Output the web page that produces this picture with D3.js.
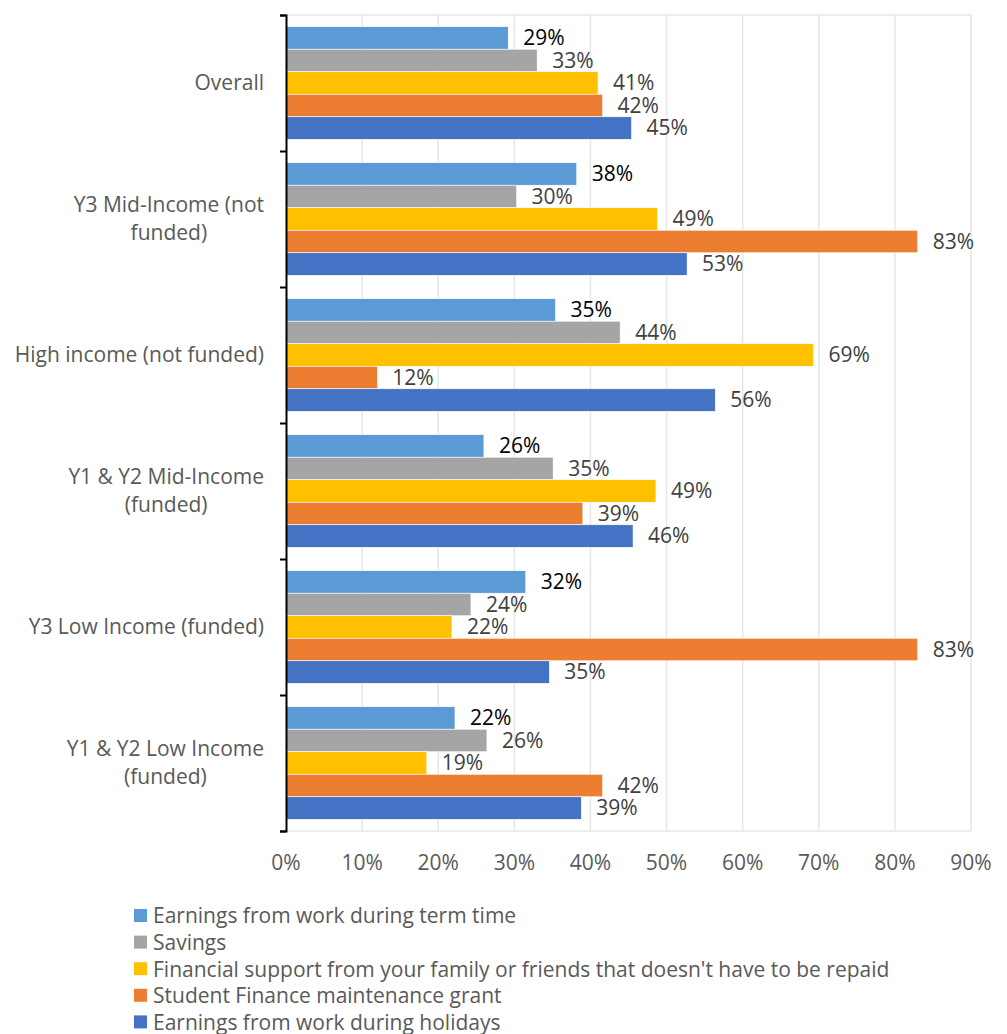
<!DOCTYPE html>
<html>
<head>
<meta charset="utf-8">
<script src="https://cdn.jsdelivr.net/npm/d3@7"></script>
<style>
  body { margin: 0; background: #fff; }
  text { font-family: "Open Sans", "Noto Sans", sans-serif; }
</style>
</head>
<body>
<svg id="myGraph" width="1007" height="1034"></svg>
<script>
// categories (top to bottom) and series
var categories = ["Overall", "Y3 Mid-Income (not funded)", "High income (not funded)",
  "Y1 & Y2 Mid-Income (funded)", "Y3 Low Income (funded)", "Y1 & Y2 Low Income (funded)"];
var categoryLines = [["Overall"], ["Y3 Mid-Income (not", "funded)"], ["High income (not funded)"],
  ["Y1 & Y2 Mid-Income", "(funded)"], ["Y3 Low Income (funded)"], ["Y1 & Y2 Low Income", "(funded)"]];
var seriesNames = ["Earnings from work during term time", "Savings",
  "Financial support from your family or friends that doesn't have to be repaid",
  "Student Finance maintenance grant", "Earnings from work during holidays"];
var seriesColors = ["#5B9BD5", "#A5A5A5", "#FFC000", "#ED7D31", "#4472C4"];

// values in %, one array per series, same order as categories
var termTime = [29.2, 38.2, 35.4, 26.0, 31.5, 22.2];
var savings  = [33.0, 30.3, 43.9, 35.1, 24.3, 26.4];
var family   = [41.0, 48.8, 69.3, 48.6, 21.8, 18.5];
var grant    = [41.6, 83.0, 12.0, 39.0, 83.0, 41.6];
var holidays = [45.4, 52.7, 56.4, 45.6, 34.6, 38.8];
var xTicks = [0, 10, 20, 30, 40, 50, 60, 70, 80, 90];

var seriesValues = [termTime, savings, family, grant, holidays];

const LEFT = 286, RIGHT = 971, TOP = 15, BOTTOM = 831;
const FONT = 21;
var svg = d3.select("#myGraph");

var xscale = d3.scaleLinear().domain([0, 90]).range([LEFT, RIGHT]);
var yscale = d3.scaleBand().domain(categories).range([TOP, BOTTOM]).padding(0);
var inner = d3.scaleBand().domain(seriesNames).range([0, yscale.bandwidth()])
  .paddingInner(0).paddingOuter(0.52);

// gridlines
svg.append("g").selectAll("line")
  .data(xTicks.slice(1))
  .enter().append("line")
  .attr("x1", d => xscale(d)).attr("x2", d => xscale(d))
  .attr("y1", TOP).attr("y2", BOTTOM)
  .attr("stroke", "#e6e6e6").attr("stroke-width", 1.5);
svg.append("g").selectAll("line")
  .data([TOP, BOTTOM])
  .enter().append("line")
  .attr("x1", LEFT).attr("x2", RIGHT)
  .attr("y1", d => d).attr("y2", d => d)
  .attr("stroke", "#e6e6e6").attr("stroke-width", 1.5);

// x tick labels
svg.append("g").selectAll("text")
  .data(xTicks)
  .enter().append("text")
  .attr("x", d => xscale(d)).attr("y", 870)
  .attr("text-anchor", "middle")
  .attr("font-size", FONT).attr("fill", "#595959")
  .text(d => d + "%");

// bars
var dataset = [];
categories.forEach(function(c, ci){
  seriesNames.forEach(function(s, si){
    dataset.push({cat: c, series: s, si: si, value: seriesValues[si][ci]});
  });
});

svg.append("g").selectAll("rect")
  .data(dataset)
  .enter().append("rect")
  .attr("x", xscale(0))
  .attr("y", d => yscale(d.cat) + inner(d.series))
  .attr("width", d => xscale(d.value) - xscale(0))
  .attr("height", inner.bandwidth())
  .attr("fill", d => seriesColors[d.si])
  .attr("stroke", "#fff").attr("stroke-width", 0.6);

// data labels
svg.append("g").selectAll("text")
  .data(dataset)
  .enter().append("text")
  .attr("x", d => xscale(d.value) + 15)
  .attr("y", d => yscale(d.cat) + inner(d.series) + inner.bandwidth() / 2)
  .attr("dy", "0.35em")
  .attr("font-size", FONT)
  .attr("fill", d => d.si === 0 ? "#000" : "#404040")
  .text(d => Math.round(d.value) + "%");

// y axis line with ticks at category boundaries
var boundary = d3.scaleLinear().domain([0, categories.length]).range([TOP, BOTTOM]);
svg.append("g")
  .attr("transform", "translate(" + LEFT + ",0)")
  .call(d3.axisLeft(boundary).ticks(categories.length).tickSize(6).tickSizeOuter(6).tickFormat(""))
  .call(g => g.selectAll("path, line").attr("stroke", "#000").attr("stroke-width", 2));

// category labels (wrapped lines centred in a right-aligned box)
categories.forEach(function(c, ci){
  var lines = categoryLines[ci];
  var cy = yscale(c) + yscale.bandwidth() / 2;
  var g = svg.append("g");
  var texts = g.selectAll("text").data(lines).enter().append("text")
    .attr("y", (d, i) => cy + (i - (lines.length - 1) / 2) * 28)
    .attr("dy", "0.35em")
    .attr("font-size", FONT).attr("fill", "#595959")
    .text(d => d);
  var maxW = d3.max(texts.nodes(), n => n.getComputedTextLength());
  texts.attr("x", 264 - maxW / 2).attr("text-anchor", "middle");
});

// legend
var legend = svg.append("g").selectAll("g")
  .data(seriesNames)
  .enter().append("g")
  .attr("transform", (d, i) => "translate(134," + (916 + i * 26.6) + ")");
legend.append("rect")
  .attr("x", 0).attr("y", -7).attr("width", 13).attr("height", 13)
  .attr("fill", (d, i) => seriesColors[i]);
legend.append("text")
  .attr("x", 19).attr("dy", "0.35em")
  .attr("font-size", FONT).attr("fill", "#595959")
  .text(d => d);
</script>
</body>
</html>
